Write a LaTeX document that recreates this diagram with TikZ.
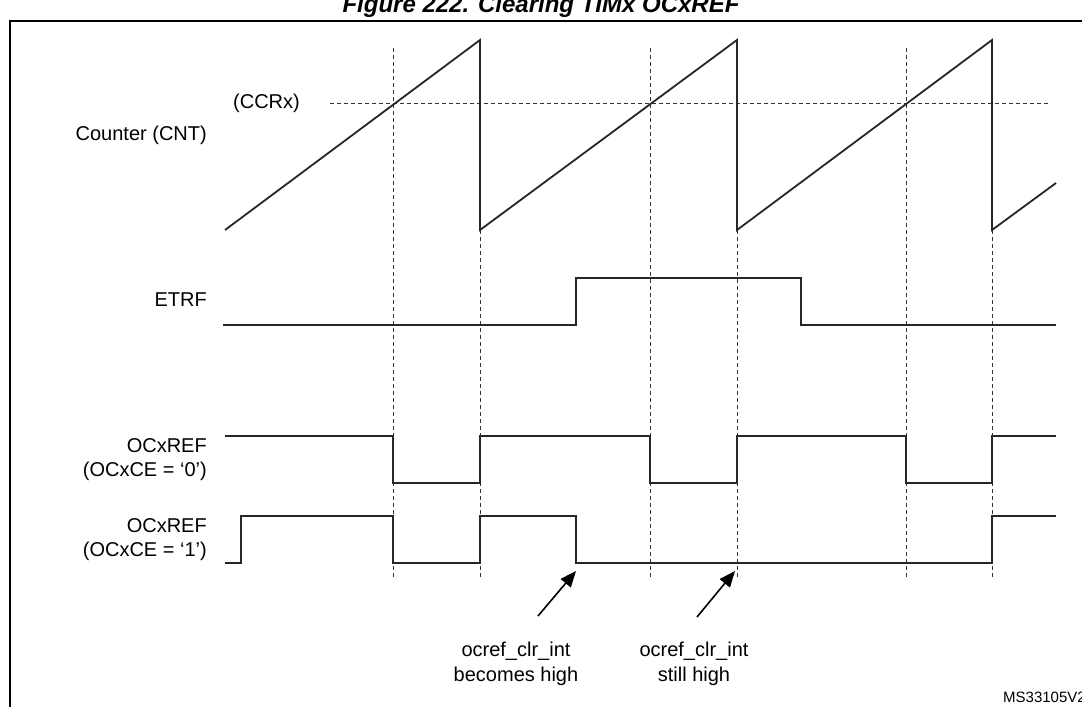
\documentclass[tikz,border=0pt]{standalone}
\usepackage{fontspec}
\setmainfont{Liberation Sans}
\usetikzlibrary{arrows.meta}
\begin{document}
\begin{tikzpicture}[x=1pt,y=-1pt,
  sig/.style={line width=1.8pt,black!85},
  grid/.style={line width=0.7pt,dash pattern=on 4pt off 3pt,black!80},
  lbl/.style={font=\fontsize{20}{24}\selectfont,inner sep=0pt,align=right},
  note/.style={font=\fontsize{20}{25}\selectfont,inner sep=0pt,align=center},
  arr/.style={line width=1.6pt,-{Triangle[length=16pt,width=13pt]}}]
\useasboundingbox (0,0) rectangle (1082,707);
\clip (0,0) rectangle (1082,707);
% title (cut at top)
\node[font=\bfseries\itshape\fontsize{24}{28}\selectfont,inner sep=0pt,anchor=base] (title) at (541,12) {Figure 222. Clearing TIMx OCxREF};
% frame
\draw[line width=2pt] (10,710) -- (10,21) -- (1090,21);
% dashed grid
\foreach \x in {393,650,906} \draw[grid] (\x,48) -- (\x,578);
\foreach \x in {480,737,992} \draw[grid] (\x,230) -- (\x,578);
\draw[grid] (330,103) -- (1050,103);
% labels
\node[lbl,anchor=west] (ccr) at (233,103) {(CCRx)};
\node[lbl,anchor=east] (cnt) at (207,135) {Counter (CNT)};
\node[lbl,anchor=east] (etrf) at (207,300) {ETRF};
\node[lbl,anchor=east] (oc0) at (207,460) {OCxREF\\(OCxCE = `0')};
\node[lbl,anchor=east] (oc1) at (207,540) {OCxREF\\(OCxCE = `1')};
% counter
\draw[sig] (225,230) -- (480,40) -- (480,230) -- (737,40) -- (737,230) -- (992,40) -- (992,230) -- (1056,183);
% ETRF
\draw[sig] (223,325) -- (576,325) -- (576,278) -- (801,278) -- (801,325) -- (1056,325);
% OCxREF 0
\draw[sig] (225,436) -- (393,436) -- (393,483) -- (480,483) -- (480,436) -- (650,436) -- (650,483) -- (737,483) -- (737,436) -- (906,436) -- (906,483) -- (992,483) -- (992,436) -- (1056,436);
% OCxREF 1
\draw[sig] (225,563) -- (241,563) -- (241,516) -- (393,516) -- (393,563) -- (480,563) -- (480,516) -- (576,516) -- (576,563) -- (992,563) -- (992,516) -- (1056,516);
% notes
\coordinate (t1) at (576,571);
\coordinate (t2) at (735,571);
\node[note] (n1) at (516,664) {ocref\_clr\_int\\becomes high};
\node[note] (n2) at (694,664) {ocref\_clr\_int\\still high};
\coordinate (a1) at (538,616);
\coordinate (a2) at (697,617);
\draw[arr] (a1) -- (t1);
\draw[arr] (a2) -- (t2);
\node[font=\fontsize{15}{18}\selectfont,inner sep=0pt,anchor=west] (ms) at (1003,697) {MS33105V2};
\end{tikzpicture}
\end{document}
